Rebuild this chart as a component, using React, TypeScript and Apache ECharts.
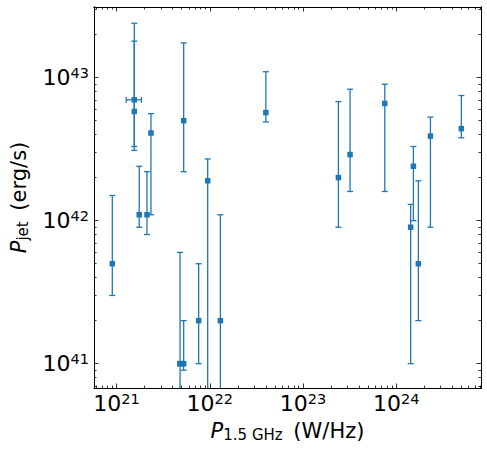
import React, { useEffect, useRef } from "react";
import * as echarts from "echarts";

// P_1.5GHz (W/Hz)
const xVals = [9.0e20, 1.55e21, 1.55e21, 1.75e21, 2.12e21, 2.34e21, 5.25e21, 9.5e21, 4.8e21, 5.25e21, 7.6e21, 1.3e22, 4.0e22, 2.4e23, 3.2e23, 7.55e23, 1.53e24, 1.43e24, 1.73e24, 2.33e24, 5.0e24];
const xLow = [9.0e20, 1.27e21, 1.55e21, 1.75e21, 2.12e21, 2.34e21, 5.25e21, 9.5e21, 4.55e21, 5.25e21, 7.6e21, 1.3e22, 4.0e22, 2.4e23, 3.2e23, 7.55e23, 1.53e24, 1.43e24, 1.73e24, 2.33e24, 5.0e24];
const xHigh = [9.0e20, 1.85e21, 1.55e21, 1.75e21, 2.12e21, 2.34e21, 5.25e21, 9.5e21, 5.05e21, 5.25e21, 7.6e21, 1.3e22, 4.0e22, 2.4e23, 3.2e23, 7.55e23, 1.53e24, 1.43e24, 1.73e24, 2.33e24, 5.0e24];
// P_jet (erg/s)
const yVals = [5e41, 7e42, 5.8e42, 1.1e42, 1.1e42, 4.1e42, 5.0e42, 1.9e42, 1e41, 1e41, 2e41, 2e41, 5.7e42, 2e42, 2.9e42, 6.6e42, 2.4e42, 9e41, 5e41, 3.9e42, 4.4e42];
const yLow = [3e41, 3.3e42, 3.1e42, 9e41, 8e41, 1.1e42, 2.2e42, 1e39, 1e39, 9e40, 1e41, 1e39, 4.9e42, 9e41, 1.6e42, 1.6e42, 1e42, 1e41, 2e41, 9e41, 3.8e42];
const yHigh = [1.5e42, 1.8e43, 2.4e43, 2.4e42, 2.2e42, 5.6e42, 1.75e43, 2.7e42, 6e41, 2e41, 5e41, 1.1e42, 1.1e43, 6.8e42, 8.3e42, 9e42, 3.3e42, 1.3e42, 1.9e42, 5.3e42, 7.5e42];

const xMajor = [1e21, 1e22, 1e23, 1e24];
const yMajor = [1e41, 1e42, 1e43];

const X_MIN = Math.pow(10, 20.758);
const X_MAX = Math.pow(10, 24.91);
const Y_MIN = Math.pow(10, 40.83);
const Y_MAX = Math.pow(10, 43.494);

const FONT = "DejaVu Sans";
const BLUE = "#1f77b4";

function minorTicks(lo: number, hi: number): number[] {
  const out: number[] = [];
  for (let e = Math.floor(Math.log10(lo)); e <= Math.ceil(Math.log10(hi)); e++) {
    for (let k = 2; k <= 9; k++) {
      const v = k * Math.pow(10, e);
      if (v >= lo && v <= hi) out.push(v);
    }
  }
  return out;
}

export default function App() {
  const ref = useRef<HTMLDivElement>(null);
  useEffect(() => {
    document.body.style.margin = "0";
    const chart = echarts.init(ref.current!, null, { renderer: "svg" });
    const xMinor = minorTicks(X_MIN, X_MAX);
    const yMinor = minorTicks(Y_MIN, Y_MAX);
    const labelRich = {
      b: { fontSize: 22, fontFamily: FONT, color: "#000" },
      s: { fontSize: 14.5, fontFamily: FONT, color: "#000", padding: [0, 0, 10, 0] },
    };
    const fmt = (v: number) => `{b|10}{s|${Math.round(Math.log10(v))}}`;
    const axisCommon = (major: boolean, customs: number[]) => ({
      axisLine: { show: true, onZero: false, lineStyle: { color: "#000", width: 1 } },
      axisTick: {
        show: true,
        inside: true,
        length: major ? 4.5 : 2.5,
        customValues: customs,
        lineStyle: { color: "#000", width: 0.8 },
      },
      splitLine: { show: false },
      minorTick: { show: false },
    });
    const mkX = (pos: string, major: boolean, label: boolean) => ({
      type: "log",
      logBase: 10,
      min: X_MIN,
      max: X_MAX,
      position: pos,
      ...axisCommon(major, major ? xMajor : xMinor),
      axisLabel: label
        ? { show: true, customValues: xMajor, formatter: fmt, rich: labelRich, margin: 3 }
        : { show: false },
    });
    const mkY = (pos: string, major: boolean, label: boolean) => ({
      type: "log",
      logBase: 10,
      min: Y_MIN,
      max: Y_MAX,
      position: pos,
      ...axisCommon(major, major ? yMajor : yMinor),
      axisLabel: label
        ? { show: true, customValues: yMajor, formatter: fmt, rich: labelRich, margin: 5 }
        : { show: false },
    });
    const nameRich = {
      i: { fontSize: 21, fontStyle: "italic", fontFamily: FONT, color: "#000" },
      sub: { fontSize: 15, fontFamily: FONT, color: "#000", padding: [8, 0, 0, 0] },
      n: { fontSize: 21, fontFamily: FONT, color: "#000", padding: [0, 0, 0, 4] },
    };
    const x0: any = mkX("bottom", true, true);
    x0.name = "{i|P}{sub|1.5 GHz}{n| (W/Hz)}";
    x0.nameLocation = "middle";
    x0.nameGap = 31;
    x0.nameTextStyle = { rich: nameRich };
    const y0: any = mkY("left", true, true);
    y0.name = "{i|P}{sub|jet}{n| (erg/s)}";
    y0.nameLocation = "middle";
    y0.nameRotate = 90;
    y0.nameGap = 64;
    y0.nameTextStyle = { rich: nameRich };

    const errData = xVals.map((x, i) => [x, yVals[i], xLow[i], xHigh[i], yLow[i], yHigh[i]]);
    const ptData = xVals.map((x, i) => [x, yVals[i]]);

    chart.setOption({
      animation: false,
      backgroundColor: "#fff",
      grid: { left: 91, right: 6, top: 7, bottom: 63, containLabel: false },
      xAxis: [x0, mkX("top", true, false), mkX("bottom", false, false), mkX("top", false, false)],
      yAxis: [y0, mkY("right", true, false), mkY("left", false, false), mkY("right", false, false)],
      series: [
        {
          type: "custom",
          xAxisIndex: 0,
          yAxisIndex: 0,
          clip: true,
          z: 2,
          encode: { x: 0, y: 1 },
          data: errData,
          renderItem: (params: any, api: any) => {
            const x = api.value(0), y = api.value(1);
            const xl = api.value(2), xh = api.value(3);
            const yl = api.value(4), yh = api.value(5);
            const top = api.coord([x, yh]);
            const bot = api.coord([x, yl]);
            const cap = 3;
            const st = { stroke: BLUE, lineWidth: 1.3 };
            const children: any[] = [
              { type: "line", shape: { x1: top[0], y1: top[1], x2: bot[0], y2: bot[1] }, style: st },
              { type: "line", shape: { x1: top[0] - cap, y1: top[1], x2: top[0] + cap, y2: top[1] }, style: st },
              { type: "line", shape: { x1: bot[0] - cap, y1: bot[1], x2: bot[0] + cap, y2: bot[1] }, style: st },
            ];
            if (xl !== xh) {
              const l = api.coord([xl, y]);
              const r = api.coord([xh, y]);
              children.push(
                { type: "line", shape: { x1: l[0], y1: l[1], x2: r[0], y2: r[1] }, style: st },
                { type: "line", shape: { x1: l[0], y1: l[1] - cap, x2: l[0], y2: l[1] + cap }, style: st },
                { type: "line", shape: { x1: r[0], y1: r[1] - cap, x2: r[0], y2: r[1] + cap }, style: st }
              );
            }
            return { type: "group", children };
          },
        },
        {
          type: "scatter",
          xAxisIndex: 0,
          yAxisIndex: 0,
          z: 3,
          symbol: "rect",
          symbolSize: 5.5,
          itemStyle: { color: BLUE, opacity: 1 },
          data: ptData,
        },
      ],
    });
    return () => chart.dispose();
  }, []);
  return <div ref={ref} style={{ width: 487, height: 451 }} />;
}
